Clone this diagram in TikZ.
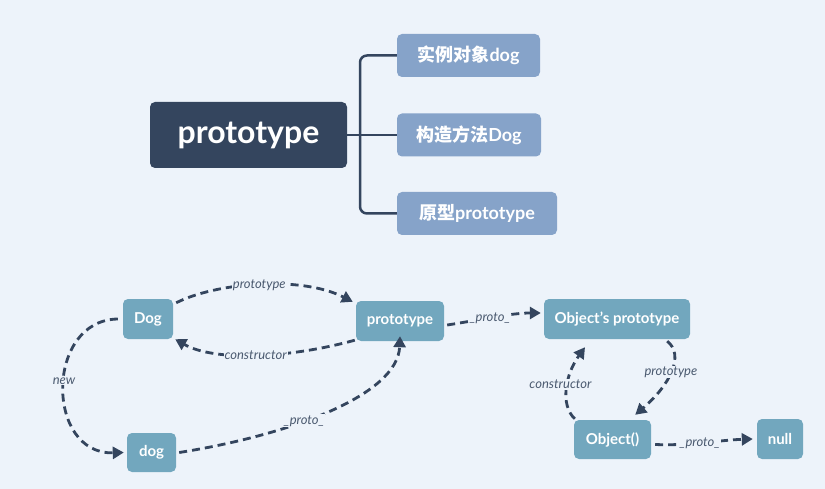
\documentclass[tikz,border=0pt]{standalone}
\usepackage{fontspec}
\setmainfont{Lato}
\newfontfamily\cjk{Noto Sans CJK SC}
\usetikzlibrary{arrows.meta}
\definecolor{bg}{HTML}{EDF3FA}
\definecolor{dark}{HTML}{34455E}
\definecolor{subc}{HTML}{86A3C9}
\definecolor{nd}{HTML}{72A7BE}
\definecolor{lbl}{HTML}{4B5A70}
\begin{document}
\begin{tikzpicture}[x=1pt,y=-1pt,
  mainbox/.style={fill=dark, rounded corners=5pt, text=white, inner sep=0pt,
    font=\bfseries\fontsize{32}{36}\selectfont},
  subbox/.style={fill=subc, rounded corners=5pt, text=white, inner sep=0pt,
    minimum height=43pt, font=\bfseries\fontsize{18}{21}\selectfont},
  nbox/.style={fill=nd, rounded corners=5pt, text=white, inner sep=0pt,
    font=\bfseries\fontsize{15}{17}\selectfont},
  branch/.style={draw=dark, line width=2.5pt, rounded corners=7pt},
  edge/.style={draw=dark, line width=2.8pt, dash pattern=on 8pt off 5pt,
    -{Triangle[length=11pt,width=12pt]}},
  elabel/.style={fill=bg, inner sep=1pt, text=lbl,
    font=\itshape\fontsize{13}{15}\selectfont},
]
\fill[bg] (0,0) rectangle (825,489);
\useasboundingbox (0,0) rectangle (825,489);

% top mind map
\node[mainbox, minimum width=197pt, minimum height=66pt] (main) at (248.5,135) {prototype};
\node[subbox, minimum width=143pt] (b1) at (468.5,55.5) {{\cjk 实例对象}dog};
\node[subbox, minimum width=144pt] (b2) at (469,135) {{\cjk 构造方法}Dog};
\node[subbox, minimum width=160pt] (b3) at (477,213.5) {{\cjk 原型}prototype};
\coordinate (jn) at (360,135);
\draw[branch] (main.east) -- (b2.west);
\draw[branch] (b1.west) -- (360,55.5) -- (360,213.5) -- (b3.west);

% bottom graph nodes
\node[nbox, minimum width=50pt, minimum height=40pt] (Dog) at (148,319) {Dog};
\node[nbox, minimum width=88pt, minimum height=40pt] (proto) at (400,321) {prototype};
\node[nbox, minimum width=49pt, minimum height=39pt] (dog) at (151.5,452.5) {dog};
\node[nbox, minimum width=146pt, minimum height=40pt] (objp) at (617,319) {Object's prototype};
\node[nbox, minimum width=77pt, minimum height=39pt] (obj) at (612.5,439.5) {Object()};
\node[nbox, minimum width=46pt, minimum height=40pt] (null) at (780,439) {null};

% edges
\draw[edge] ([shift={(3,4)}]Dog.north east) .. controls (215,283) and (300,275) .. ([shift={(-3,1)}]proto.north west)
  node[elabel, pos=0.5] {prototype};
\draw[edge] ([shift={(-1,-1)}]proto.south west) .. controls (290,358) and (215,362) .. ([shift={(2,0)}]Dog.south east)
  node[elabel, pos=0.5] {constructor};
\draw[edge] ([xshift=3pt]dog.east) .. controls (290,435) and (398,395) .. ([yshift=5pt]proto.south)
  node[elabel, pos=0.4] {\_proto\_};
\draw[edge] ([xshift=-5pt]Dog.west) .. controls (45,320) and (45,455) .. ([xshift=-3pt]dog.west)
  node[elabel, pos=0.47] {new};
\draw[edge] ([shift={(3,4)}]proto.east) .. controls (480,320) and (510,313) .. ([shift={(-3,-6)}]objp.west)
  node[elabel, pos=0.45] {\_proto\_};
\draw[edge] ([shift={(-23,2)}]objp.south east) .. controls (685,355) and (670,385) .. ([shift={(-16,-5)}]obj.north east)
  node[elabel, pos=0.5] {prototype};
\draw[edge] ([shift={(1,-1)}]obj.north west) .. controls (560,405) and (565,375) .. ([shift={(-32,8)}]objp.south)
  node[elabel, pos=0.55, xshift=-7pt] {constructor};
\draw[edge] ([shift={(4,5)}]obj.east) .. controls (690,446) and (720,440) .. ([xshift=-4pt]null.west)
  node[elabel, pos=0.45] {\_proto\_};
\end{tikzpicture}
\end{document}
